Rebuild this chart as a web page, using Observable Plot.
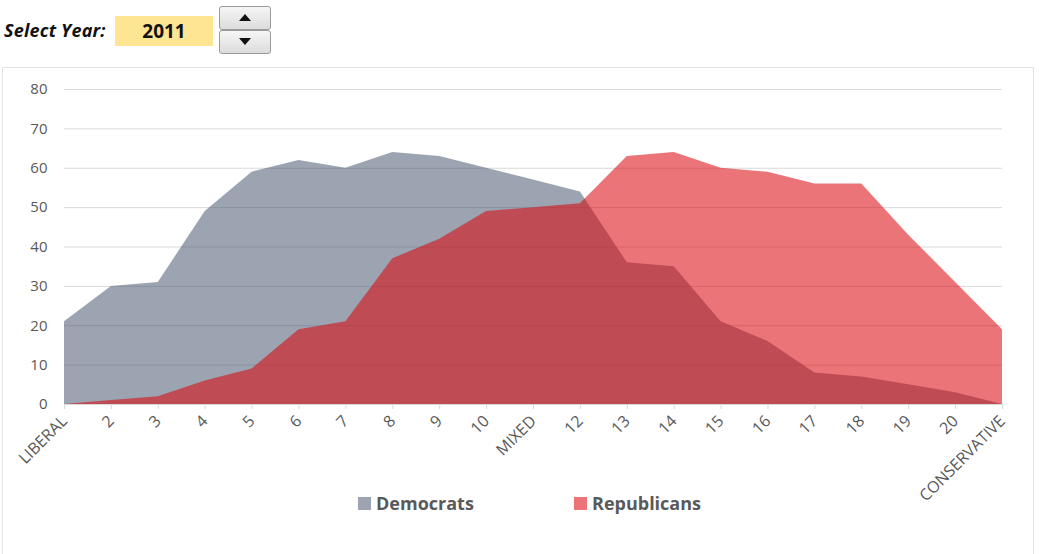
<!DOCTYPE html>
<html>
<head>
<meta charset="utf-8">
<script src="https://cdn.jsdelivr.net/npm/d3@7"></script>
<script src="https://cdn.jsdelivr.net/npm/@observablehq/plot@0.6"></script>
<style>
  html, body { margin: 0; padding: 0; background: #fff; width: 1039px; height: 554px; overflow: hidden; }
  body { position: relative; font-family: "Open Sans", "DejaVu Sans", sans-serif; }
  #header-label { position: absolute; left: 4px; top: 18px; font-size: 18px; font-weight: 700; font-style: italic; color: #111; letter-spacing: 0.2px; }
  #year { position: absolute; left: 115px; top: 16px; width: 98px; height: 30px; background: #fde594; font-size: 19px; font-weight: 700; color: #111; text-align: center; line-height: 30px; }
  .spin { position: absolute; left: 219px; width: 50px; height: 22px; border: 1px solid #9a9a9a; border-radius: 3px; background: linear-gradient(#f6f6f6, #dcdcdc); }
  .spin svg { position: absolute; left: 19px; top: 7px; }
  #panel { position: absolute; left: 2px; top: 67px; width: 1030px; height: 500px; border: 1px solid #e3e3e3; }
  #chart { position: absolute; left: 0; top: 68px; }
  #legend { position: absolute; top: 490px; left: 0; width: 1039px; height: 26px; font-size: 18px; font-weight: 700; color: #595959; }
  .li { position: absolute; top: 0; display: flex; align-items: center; height: 26px; }
  .sw { width: 13px; height: 13px; margin-right: 5px; }
</style>
</head>
<body>
<div id="header-label">Select Year:</div>
<div id="year">2011</div>
<div class="spin" style="top:6px"><svg width="12" height="8"><polygon points="0,7 12,7 6,0" fill="#111"/></svg></div>
<div class="spin" style="top:30px"><svg width="12" height="8"><polygon points="0,0 12,0 6,7" fill="#111"/></svg></div>
<div id="panel"></div>
<div id="chart"></div>
<div id="legend"></div>
<script>
const categories = ["LIBERAL","2","3","4","5","6","7","8","9","10","MIXED","12","13","14","15","16","17","18","19","20","CONSERVATIVE"];
const democrats =   [21, 30, 31, 49, 59, 62, 60, 64, 63, 60, 57, 54, 36, 35, 21, 16,  8,  7,  5,  3,  0];
const republicans = [ 0,  1,  2,  6,  9, 19, 21, 37, 42, 49, 50, 51, 63, 64, 60, 59, 56, 56, 43, 31, 19];
const yTicks = [0, 10, 20, 30, 40, 50, 60, 70, 80];
const seriesNames = ["Democrats", "Republicans"];
const seriesColors = ["#44546a", "#dc080e"];
const seriesOpacity = [0.535, 0.56];

const rows = categories.map((c, i) => ({cat: c, dem: democrats[i], rep: republicans[i]}));

const chart = Plot.plot({
  width: 1039,
  height: 486,
  marginLeft: 64,
  marginRight: 37,
  marginTop: 21,
  marginBottom: 150,
  style: {fontFamily: "'Open Sans', sans-serif", fontSize: "14px", color: "#595959", background: "transparent"},
  x: {type: "point", domain: categories, padding: 0, round: false, label: null},
  y: {domain: [0, 80], label: null},
  marks: [
    Plot.ruleY(yTicks.filter(d => d > 0), {stroke: "#d9d9d9", strokeWidth: 1}),
    Plot.areaY(rows, {x: "cat", y: "dem", fill: seriesColors[0], fillOpacity: seriesOpacity[0], curve: "linear"}),
    Plot.areaY(rows, {x: "cat", y: "rep", fill: seriesColors[1], fillOpacity: seriesOpacity[1], curve: "linear"}),
    Plot.ruleY([0], {stroke: "#d9d9d9", strokeWidth: 1}),
    Plot.axisY({ticks: yTicks, tickSize: 0, tickPadding: 17, fill: "#595959", fontSize: 15, label: null}),
    Plot.axisX({ticks: categories, tickSize: 5, text: null, stroke: "#d9d9d9", label: null}),
    Plot.axisX({ticks: categories, tickSize: 0, tickPadding: 14, tickRotate: -45, fill: "#595959", fontSize: 16, label: null})
  ]
});
document.getElementById("chart").appendChild(chart);

// legend
const legend = document.getElementById("legend");
const legendX = [358, 574];
seriesNames.forEach((name, i) => {
  const item = document.createElement("div");
  item.className = "li";
  item.style.left = legendX[i] + "px";
  const sw = document.createElement("div");
  sw.className = "sw";
  sw.style.background = seriesColors[i];
  sw.style.opacity = seriesOpacity[i];
  item.appendChild(sw);
  const t = document.createElement("span");
  t.textContent = name;
  item.appendChild(t);
  legend.appendChild(item);
});
</script>
</body>
</html>
